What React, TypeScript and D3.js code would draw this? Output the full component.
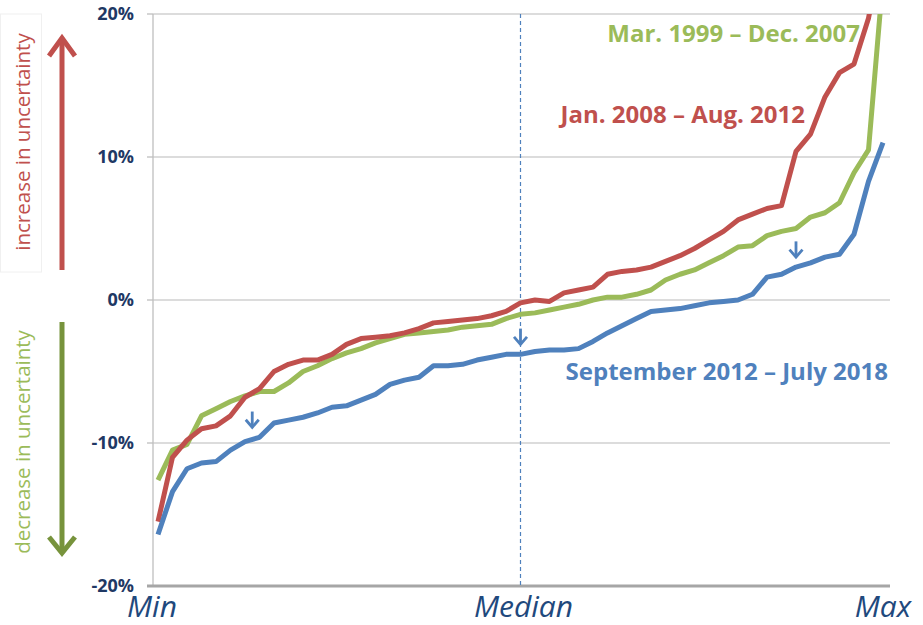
import * as d3 from "d3";

// percentile rank of the country distribution, Min → Max
const ranks = d3.range(0, 101, 2);

const mar1999 = [
  -12.6, -10.5, -10.1, -8.1, -7.6, -7.1, -6.7, -6.4, -6.4, -5.8,
  -5.0, -4.6, -4.1, -3.7, -3.4, -3.0, -2.7, -2.4, -2.3, -2.2,
  -2.1, -1.9, -1.8, -1.7, -1.3, -1.0, -0.9, -0.7, -0.5, -0.3,
  0.0, 0.2, 0.2, 0.4, 0.7, 1.4, 1.8, 2.1, 2.6, 3.1,
  3.7, 3.8, 4.5, 4.8, 5.0, 5.8, 6.1, 6.8, 8.9, 10.5, 22.5,
];
const jan2008 = [
  -15.5, -11.0, -9.8, -9.0, -8.8, -8.1, -6.8, -6.2, -5.0, -4.5,
  -4.2, -4.2, -3.8, -3.1, -2.7, -2.6, -2.5, -2.3, -2.0, -1.6,
  -1.5, -1.4, -1.3, -1.1, -0.8, -0.2, 0.0, -0.1, 0.5, 0.7,
  0.9, 1.8, 2.0, 2.1, 2.3, 2.7, 3.1, 3.6, 4.2, 4.8,
  5.6, 6.0, 6.4, 6.6, 10.4, 11.6, 14.2, 15.9, 16.5, 19.7, 25.0,
];
const sep2012 = [
  -16.4, -13.4, -11.8, -11.4, -11.3, -10.5, -9.9, -9.6, -8.6, -8.4,
  -8.2, -7.9, -7.5, -7.4, -7.0, -6.6, -5.9, -5.6, -5.4, -4.6,
  -4.6, -4.5, -4.2, -4.0, -3.8, -3.8, -3.6, -3.5, -3.5, -3.4,
  -2.9, -2.3, -1.8, -1.3, -0.8, -0.7, -0.6, -0.4, -0.2, -0.1,
  0.0, 0.4, 1.6, 1.8, 2.3, 2.6, 3.0, 3.2, 4.6, 8.3, 11.0,
];

const seriesNames = ["Mar. 1999 – Dec. 2007", "Jan. 2008 – Aug. 2012", "September 2012 – July 2018"];
const seriesColors = ["#9BBB59", "#C0504D", "#4F81BD"];
const yTicks = [20, 10, 0, -10, -20];
const xLabels = ["Min", "Median", "Max"];
const xLabelRanks = [0, 50, 100];

// small "shift down" arrows: [rank, from, to]
const shiftArrows = [
  [13, -7.8, -8.9],
  [50, -2.0, -3.1],
  [88, 4.1, 3.0],
];

const W = 923;
const H = 625;

export default function App() {
  const x = d3.scaleLinear().domain([0, 100]).range([158, 883]);
  const y = d3.scaleLinear().domain([-20, 20]).range([586, 14]);
  const axisX = 153;
  const plotRight = 890;

  const line = d3
    .line<number>()
    .x((_, i) => x(ranks[i]))
    .y((d) => y(d));

  const allSeries = [mar1999, jan2008, sep2012];
  const navy = "#1F3864";
  const font = "'Open Sans', 'Noto Sans', sans-serif";

  return (
    <svg
      width={W}
      height={H}
      style={{ position: "absolute", left: 0, top: 0, background: "#fff" }}
      fontFamily={font}
    >
      <defs>
        <clipPath id="plot">
          <rect x={axisX} y={y(20)} width={plotRight - axisX + 10} height={y(-20) - y(20)} />
        </clipPath>
      </defs>

      {/* gridlines */}
      {yTicks.filter((t) => t !== -20).map((t) => (
        <line key={t} x1={axisX} x2={plotRight} y1={y(t)} y2={y(t)} stroke="#D0D0D0" strokeWidth={1.3} />
      ))}

      {/* y axis */}
      <line x1={axisX} x2={axisX} y1={y(20)} y2={y(-20)} stroke="#BFBFBF" strokeWidth={1.3} />
      {yTicks.map((t) => (
        <g key={t}>
          <line x1={axisX - 6} x2={axisX} y1={y(t)} y2={y(t)} stroke="#BFBFBF" strokeWidth={1.3} />
          <text
            x={axisX - 19}
            y={y(t)}
            dy="0.36em"
            textAnchor="end"
            fontSize={18}
            fontWeight="bold"
            fill={navy}
          >
            {t}%
          </text>
        </g>
      ))}

      {/* bottom axis */}
      <line x1={axisX - 6} x2={plotRight} y1={y(-20)} y2={y(-20)} stroke="#A6A6A6" strokeWidth={3} />

      {/* median */}
      <line
        x1={x(50)}
        x2={x(50)}
        y1={y(20)}
        y2={y(-20)}
        stroke="#4F81BD"
        strokeWidth={1.2}
        strokeDasharray="4,3"
      />

      {/* series */}
      <g clipPath="url(#plot)">
        {allSeries.map((s, i) => (
          <path
            key={i}
            d={line(s) || ""}
            fill="none"
            stroke={seriesColors[i]}
            strokeWidth={5}
            strokeLinejoin="round"
          />
        ))}
      </g>

      {/* shift arrows */}
      {shiftArrows.map(([r, a, b], i) => (
        <g key={i} stroke="#4F81BD" strokeWidth={2.8} fill="none">
          <line x1={x(r)} x2={x(r)} y1={y(a)} y2={y(b)} />
          <polyline points={`${x(r) - 6.5},${y(b) - 7.5} ${x(r)},${y(b)} ${x(r) + 6.5},${y(b) - 7.5}`} />
        </g>
      ))}

      {/* series labels */}
      <text x={860} y={42} textAnchor="end" fontSize={24} fontWeight="bold" fill={seriesColors[0]}>
        {seriesNames[0]}
      </text>
      <text x={805} y={123} textAnchor="end" fontSize={24} fontWeight="bold" fill={seriesColors[1]}>
        {seriesNames[1]}
      </text>
      <text x={888} y={380} textAnchor="end" fontSize={24} fontWeight="bold" fill={seriesColors[2]}>
        {seriesNames[2]}
      </text>

      {/* x labels */}
      {xLabels.map((l, i) => (
        <text
          key={l}
          x={x(xLabelRanks[i]) + (i === 0 ? -6 : i === 2 ? 0 : 3)}
          y={617}
          textAnchor="middle"
          fontSize={30}
          fontStyle="italic"
          fill="#1F497D"
        >
          {l}
        </text>
      ))}

      {/* direction annotations */}
      <rect x={0.5} y={14} width={41} height={258} fill="none" stroke="#F0F0F0" />
      <g stroke="#C0504D" strokeWidth={5} fill="none">
        <line x1={62} x2={62} y1={270} y2={40} />
        <polyline points="49,56 62,38 75,56" />
      </g>
      <text transform="translate(30,142) rotate(-90)" textAnchor="middle" fontSize={20.5} fill="#C0504D">
        increase in uncertainty
      </text>
      <g stroke="#77933C" strokeWidth={5} fill="none">
        <line x1={62} x2={62} y1={322} y2={551} />
        <polyline points="49,537 62,553 75,537" />
      </g>
      <text transform="translate(30,442) rotate(-90)" textAnchor="middle" fontSize={20.5} fill="#9BBB59">
        decrease in uncertainty
      </text>
    </svg>
  );
}
